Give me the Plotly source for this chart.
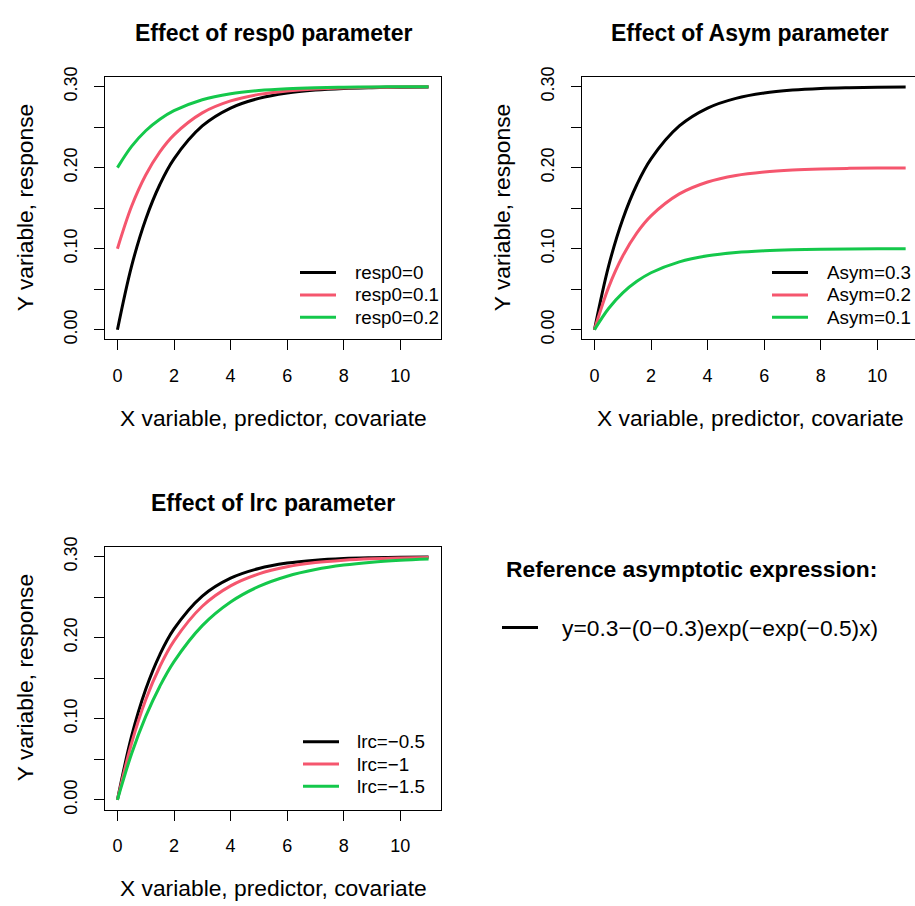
import plotly.graph_objects as go

# ---- data -------------------------------------------------------------
x_vals = [0, 0.5, 1, 1.5, 2, 3, 4, 5, 6, 7, 8, 9, 10, 11]

# panel 1: varying resp0 (Asym = 0.3, lrc = -0.5)
resp0_labels = ["resp0=0", "resp0=0.1", "resp0=0.2"]
resp0_curves = [
    [0, 0.0785, 0.1364, 0.1792, 0.2108, 0.2514, 0.2735, 0.2855, 0.2921, 0.2957, 0.2977, 0.2987, 0.2993, 0.2996],
    [0.1, 0.1523, 0.1909, 0.2195, 0.2405, 0.2676, 0.2823, 0.2904, 0.2947, 0.2971, 0.2984, 0.2991, 0.2995, 0.2997],
    [0.2, 0.2262, 0.2455, 0.2597, 0.2703, 0.2838, 0.2912, 0.2952, 0.2974, 0.2986, 0.2992, 0.2996, 0.2998, 0.2999],
]

# panel 2: varying Asym (resp0 = 0, lrc = -0.5)
asym_labels = ["Asym=0.3", "Asym=0.2", "Asym=0.1"]
asym_curves = [
    [0, 0.0785, 0.1364, 0.1792, 0.2108, 0.2514, 0.2735, 0.2855, 0.2921, 0.2957, 0.2977, 0.2987, 0.2993, 0.2996],
    [0, 0.0523, 0.0909, 0.1195, 0.1405, 0.1676, 0.1823, 0.1904, 0.1947, 0.1971, 0.1984, 0.1991, 0.1995, 0.1997],
    [0, 0.0262, 0.0455, 0.0597, 0.0703, 0.0838, 0.0912, 0.0952, 0.0974, 0.0986, 0.0992, 0.0996, 0.0998, 0.0999],
]

# panel 3: varying lrc (Asym = 0.3, resp0 = 0)
lrc_labels = ["lrc=\u22120.5", "lrc=\u22121", "lrc=\u22121.5"]
lrc_curves = [
    [0, 0.0785, 0.1364, 0.1792, 0.2108, 0.2514, 0.2735, 0.2855, 0.2921, 0.2957, 0.2977, 0.2987, 0.2993, 0.2996],
    [0, 0.0698, 0.1234, 0.1645, 0.1961, 0.2388, 0.2640, 0.2788, 0.2875, 0.2927, 0.2957, 0.2975, 0.2985, 0.2991],
    [0, 0.0568, 0.1029, 0.1402, 0.1705, 0.2149, 0.2441, 0.2633, 0.2759, 0.2841, 0.2896, 0.2932, 0.2955, 0.2971],
]

panel_titles = ["Effect of resp0 parameter", "Effect of Asym parameter", "Effect of lrc parameter"]
x_title = "X variable, predictor, covariate"
y_title = "Y variable, response"
x_ticks = [0, 2, 4, 6, 8, 10]
y_ticks = [0, 0.05, 0.10, 0.15, 0.20, 0.25, 0.30]
y_ticktext = ["0.00", "", "0.10", "", "0.20", "", "0.30"]
ref_heading = "Reference asymptotic expression:"
ref_expression = "y=0.3\u2212(0\u22120.3)exp(\u2212exp(\u22120.5)x)"

colors = ["#000000", "#F5566E", "#14C84B"]

# ---- geometry ---------------------------------------------------------
W, H = 915, 906
FONT = "Liberation Sans, Arial, Helvetica, sans-serif"


def px_x(p):
    return p / W


def px_y(p):
    return 1 - p / H


# (left, right, top, bottom) in pixels, x range, legend anchor (line start, text start, first row y)
panels = [
    dict(box=(105, 441, 68, 335), xr=[-0.44, 11.44], mirror_right=True, leg=(300, 353, 267)),
    dict(box=(582, 915, 68, 335), xr=[-0.44, 11.33], mirror_right=False, leg=(772, 825, 267)),
    dict(box=(105, 441, 546, 813), xr=[-0.44, 11.44], mirror_right=True, leg=(303, 355, 744)),
]
yr = [-0.012, 0.312]
LEG_ROW = 22.7
LEG_LINE = 36

fig = go.Figure()
layout = {}
annotations = []
shapes = []

series = [(resp0_labels, resp0_curves), (asym_labels, asym_curves), (lrc_labels, lrc_curves)]

for i, (p, (labels, curves)) in enumerate(zip(panels, series)):
    l, r, t, b = p["box"]
    xa = "x" if i == 0 else f"x{i + 1}"
    ya = "y" if i == 0 else f"y{i + 1}"
    for lab, ys, col in zip(labels, curves, colors):
        fig.add_trace(go.Scatter(
            x=x_vals, y=ys, mode="lines", name=lab, showlegend=False,
            line=dict(color=col, width=3, shape="spline", smoothing=1.0),
            xaxis=xa, yaxis=ya,
        ))

    xkey = "xaxis" if i == 0 else f"xaxis{i + 1}"
    ykey = "yaxis" if i == 0 else f"yaxis{i + 1}"
    layout[xkey] = dict(
        domain=[px_x(l), min(px_x(r), 1.0)], range=p["xr"], anchor=ya,
        tickmode="array", tickvals=x_ticks, ticks="outside", ticklen=10,
        tickwidth=1, tickcolor="#000", showline=True, linecolor="#000", linewidth=1,
        mirror=True, showgrid=False, zeroline=False, ticklabelstandoff=10,
        tickfont=dict(family=FONT, size=18, color="#000"),
    )
    layout[ykey] = dict(
        domain=[px_y(b), px_y(t)], range=yr, anchor=xa,
        tickmode="array", tickvals=y_ticks, ticktext=y_ticktext, tickangle=-90,
        ticks="outside", ticklen=10, tickwidth=1, tickcolor="#000",
        showline=True, linecolor="#000", linewidth=1, mirror=p["mirror_right"],
        showgrid=False, zeroline=False, ticklabelstandoff=10,
        tickfont=dict(family=FONT, size=18, color="#000"),
    )

    cx = (l + (r if p["mirror_right"] else 918)) / 2
    # panel title
    annotations.append(dict(
        text=f"<b>{panel_titles[i]}</b>", x=px_x(cx), y=px_y(t - 45),
        xref="paper", yref="paper", showarrow=False, xanchor="center", yanchor="middle",
        font=dict(family=FONT, size=23, color="#000"),
    ))
    # axis titles
    annotations.append(dict(
        text=x_title, x=px_x(cx), y=px_y(b + 80),
        xref="paper", yref="paper", showarrow=False, xanchor="center", yanchor="middle",
        font=dict(family=FONT, size=22.8, color="#000"),
    ))
    annotations.append(dict(
        text=y_title, x=px_x(l - 80), y=px_y((t + b) / 2), textangle=-90,
        xref="paper", yref="paper", showarrow=False, xanchor="center", yanchor="middle",
        font=dict(family=FONT, size=22.8, color="#000"),
    ))

    # legend: coloured line samples with their labels
    lx, tx, ly = p["leg"]
    for k, (lab, col) in enumerate(zip(labels, colors)):
        yy = ly + k * LEG_ROW
        shapes.append(dict(
            type="line", xref="paper", yref="paper",
            x0=px_x(lx), x1=px_x(lx + LEG_LINE), y0=px_y(yy), y1=px_y(yy),
            line=dict(color=col, width=3),
        ))
        annotations.append(dict(
            text=lab, x=px_x(tx), y=px_y(yy),
            xref="paper", yref="paper", showarrow=False, xanchor="left", yanchor="middle",
            font=dict(family=FONT, size=18.8, color="#000"),
        ))

# reference expression block
annotations.append(dict(
    text=f"<b>{ref_heading}</b>", x=px_x(691), y=px_y(568),
    xref="paper", yref="paper", showarrow=False, xanchor="center", yanchor="middle",
    font=dict(family=FONT, size=22.8, color="#000"),
))
annotations.append(dict(
    text=ref_expression, x=px_x(560), y=px_y(628),
    xref="paper", yref="paper", showarrow=False, xanchor="left", yanchor="middle",
    font=dict(family=FONT, size=22.8, color="#000"),
))
shapes.append(dict(
    type="line", xref="paper", yref="paper",
    x0=px_x(502), x1=px_x(538), y0=px_y(628), y1=px_y(628),
    line=dict(color="#000", width=3),
))

fig.update_layout(
    width=W, height=H, margin=dict(l=0, r=0, t=0, b=0),
    paper_bgcolor="white", plot_bgcolor="white",
    showlegend=False, annotations=annotations, shapes=shapes,
    font=dict(family=FONT, color="#000"),
    **layout,
)

fig.write_html("out.html")
